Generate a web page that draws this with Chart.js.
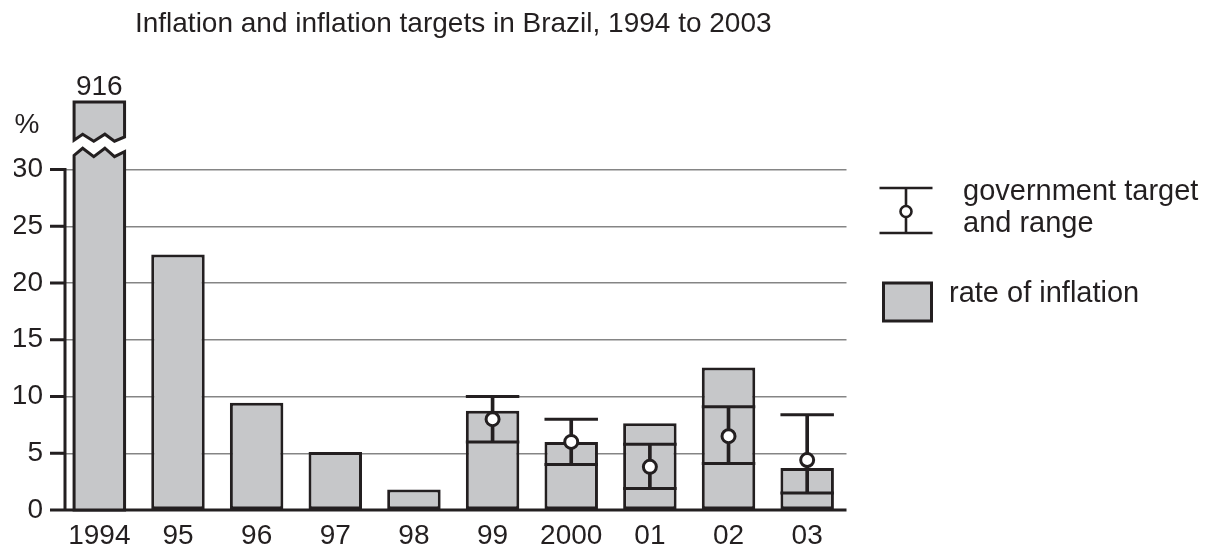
<!DOCTYPE html>
<html>
<head>
<meta charset="utf-8">
<title>Inflation and inflation targets in Brazil</title>
<script src="https://cdn.jsdelivr.net/npm/chart.js@4.4.0/dist/chart.umd.min.js"></script>
<style>
  html, body { margin: 0; padding: 0; background: #fff; }
</style>
</head>
<body>
<canvas id="myChart" width="1212" height="550"></canvas>
<script>
const years = ["1994", "95", "96", "97", "98", "99", "2000", "01", "02", "03"];
const inflation = [916, 22.5, 9.45, 5.1, 1.8, 8.75, 6.0, 7.65, 12.55, 3.7];
const targetMid = [null, null, null, null, null, 8, 6, 3.8, 6.5, 4.4];
const targetLow = [null, null, null, null, null, 6, 4, 1.9, 4.1, 1.5];
const targetHigh = [null, null, null, null, null, 10, 8, 5.8, 9.1, 8.4];
const yTicks = [0, 5, 10, 15, 20, 25, 30];

const ink = "#231f20";
const barFill = "#c6c7c9";
const gridGray = "#858585";
const fontFamily = "'Liberation Sans', Arial, Helvetica, sans-serif";
const barFrac = 0.68;

// where the axis is cut for the 1994 bar (in % units)
const axisTop = 37;
const breakLow = 31.5;
const breakHigh = 32.8;
const breakBoxTop = 35.95;

Chart.defaults.font.family = fontFamily;
Chart.defaults.color = ink;

const capRadius = (ctx) => ctx.chart.scales.x.width / years.length * barFrac / 2;

// zigzag used for the axis break
const zigzag = (left, right, cy, amp) => {
  const fx = [0, 0.17, 0.39, 0.61, 0.8, 1];
  const dy = [0.7, -1, 1, -1, 1, -0.2];
  return fx.map((f, i) => [left + (right - left) * f, cy + dy[i] * amp]);
};

const extras = {
  id: "extras",
  afterDatasetsDraw(chart) {
    const { ctx, chartArea, scales } = chart;
    const y = scales.y;
    const x0 = chartArea.left + 5;
    ctx.save();
    ctx.strokeStyle = ink;
    ctx.lineWidth = 3;
    ctx.lineCap = "butt";

    // left axis, ticks, baseline
    ctx.beginPath();
    ctx.moveTo(x0, y.getPixelForValue(0));
    ctx.lineTo(x0, y.getPixelForValue(30) - 1.5);
    yTicks.forEach((v) => {
      const py = y.getPixelForValue(v);
      ctx.moveTo(x0 - 15, py);
      ctx.lineTo(x0, py);
    });
    ctx.moveTo(x0 - 15, y.getPixelForValue(0));
    ctx.lineTo(chartArea.right, y.getPixelForValue(0));
    ctx.stroke();

    // "%" unit
    ctx.fillStyle = ink;
    ctx.font = "28px " + fontFamily;
    ctx.textAlign = "center";
    ctx.textBaseline = "middle";
    ctx.fillText("%", chartArea.left - 33, y.getPixelForValue(33.9));

    // broken 1994 bar
    const bar = chart.getDatasetMeta(0).data[0];
    const left = bar.x - bar.width / 2 + 1.5;
    const right = bar.x + bar.width / 2 - 1.5;
    ctx.lineJoin = "miter";
    ctx.fillStyle = barFill;

    const lowZ = zigzag(left, right, y.getPixelForValue(breakLow), 4.2);
    ctx.beginPath();
    ctx.moveTo(left, y.getPixelForValue(0));
    lowZ.forEach((p) => ctx.lineTo(p[0], p[1]));
    ctx.lineTo(right, y.getPixelForValue(0));
    ctx.closePath();
    ctx.fill();
    ctx.stroke();

    const topY = y.getPixelForValue(breakBoxTop);
    const highZ = zigzag(left, right, y.getPixelForValue(breakHigh), 3.5);
    ctx.beginPath();
    ctx.moveTo(left, topY);
    ctx.lineTo(right, topY);
    highZ.slice().reverse().forEach((p) => ctx.lineTo(p[0], p[1]));
    ctx.closePath();
    ctx.fill();
    ctx.stroke();

    ctx.fillStyle = ink;
    ctx.textBaseline = "alphabetic";
    ctx.fillText(String(inflation[0]), bar.x, topY - 6.5);

    // legend
    const lx = chartArea.right + 33;
    const lw = 53;
    const lc = lx + lw / 2;
    ctx.lineWidth = 2.6;
    ctx.beginPath();
    ctx.moveTo(lx, 188);
    ctx.lineTo(lx + lw, 188);
    ctx.moveTo(lx, 233);
    ctx.lineTo(lx + lw, 233);
    ctx.moveTo(lc, 188);
    ctx.lineTo(lc, 233);
    ctx.stroke();
    ctx.beginPath();
    ctx.arc(lc, 211.5, 5.5, 0, Math.PI * 2);
    ctx.fillStyle = "#fff";
    ctx.fill();
    ctx.stroke();

    ctx.lineWidth = 3;
    ctx.fillStyle = barFill;
    ctx.fillRect(lx + 4, 283, 48, 38);
    ctx.strokeRect(lx + 4, 283, 48, 38);

    ctx.fillStyle = ink;
    ctx.font = "29px " + fontFamily;
    ctx.textAlign = "left";
    ctx.fillText("government target", 963, 200);
    ctx.fillText("and range", 963, 232);
    ctx.fillText("rate of inflation", 949, 302);
    ctx.restore();
  }
};

const config = {
  type: "bar",
  data: {
    labels: years,
    datasets: [
      {
        label: "rate of inflation",
        data: inflation,
        order: 3,
        grouped: false,
        barPercentage: barFrac,
        categoryPercentage: 1,
        backgroundColor: (c) => (c.dataIndex === 0 ? "rgba(0,0,0,0)" : barFill),
        borderColor: (c) => (c.dataIndex === 0 ? "rgba(0,0,0,0)" : ink),
        borderWidth: 3,
        borderSkipped: false,
      },
      {
        label: "range",
        data: targetLow.map((lo, i) => (lo === null ? null : [lo, targetHigh[i]])),
        order: 2,
        grouped: false,
        barThickness: 3,
        backgroundColor: ink,
        borderWidth: 0,
      },
      {
        type: "line",
        label: "range low",
        data: targetLow,
        order: 1,
        showLine: false,
        pointStyle: "line",
        pointRadius: capRadius,
        pointHoverRadius: capRadius,
        pointBorderWidth: 3,
        pointBorderColor: ink,
      },
      {
        type: "line",
        label: "range high",
        data: targetHigh,
        order: 1,
        showLine: false,
        pointStyle: "line",
        pointRadius: capRadius,
        pointHoverRadius: capRadius,
        pointBorderWidth: 3,
        pointBorderColor: ink,
      },
      {
        type: "line",
        label: "government target",
        data: targetMid,
        order: 0,
        showLine: false,
        pointStyle: "circle",
        pointRadius: 6.5,
        pointHoverRadius: 6.5,
        pointBorderWidth: 3,
        pointBorderColor: ink,
        pointBackgroundColor: "#fff",
      },
    ],
  },
  options: {
    responsive: false,
    animation: false,
    events: [],
    layout: { padding: { left: 14, right: 365.5, top: 0, bottom: 0 } },
    plugins: {
      legend: { display: false },
      tooltip: { enabled: false },
      title: {
        display: true,
        fullSize: false,
        text: "Inflation and inflation targets in Brazil, 1994 to 2003",
        color: ink,
        font: { size: 28, weight: "normal", lineHeight: 1.2 },
        padding: { top: 7, bottom: 49.4 },
      },
    },
    scales: {
      x: {
        grid: { display: false, drawTicks: false },
        border: { display: false },
        afterFit: (axis) => {
          axis.height = 40;
        },
        ticks: {
          color: ink,
          font: { size: 28, lineHeight: 1 },
          padding: 12,
          maxRotation: 0,
          autoSkip: false,
        },
      },
      y: {
        min: 0,
        max: axisTop,
        afterBuildTicks: (axis) => {
          axis.ticks = yTicks.map((v) => ({ value: v }));
        },
        afterFit: (axis) => {
          axis.width = 46;
        },
        border: { display: false },
        grid: {
          drawTicks: false,
          color: (c) => (c.tick && c.tick.value === 0 ? "rgba(0,0,0,0)" : gridGray),
          lineWidth: 1.4,
        },
        ticks: {
          color: ink,
          font: { size: 28 },
          padding: 17,
        },
      },
    },
  },
  plugins: [extras],
};

const myChart = new Chart(document.getElementById("myChart"), config);
</script>
</body>
</html>
